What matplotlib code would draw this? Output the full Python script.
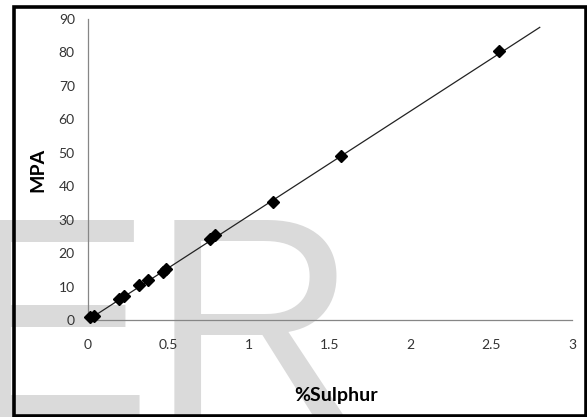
import matplotlib
matplotlib.use("Agg")
import matplotlib.pyplot as plt
from matplotlib.patches import Rectangle

# Data
sulphur = [0.012, 0.04, 0.194, 0.225, 0.318, 0.374, 0.467, 0.484, 0.758, 0.787, 1.149, 1.568, 2.55]
mpa = [1.0, 1.2, 6.2, 7.2, 10.4, 12.1, 14.4, 15.2, 24.3, 25.3, 35.4, 49.1, 80.3]
fit_x = [0.0, 2.8]
fit_y = [0.0, 87.5]
x_ticks = [0, 0.5, 1, 1.5, 2, 2.5, 3]
x_tick_labels = ["0", "0.5", "1", "1.5", "2", "2.5", "3"]
y_ticks = [0, 10, 20, 30, 40, 50, 60, 70, 80, 90]
y_tick_labels = ["0", "10", "20", "30", "40", "50", "60", "70", "80", "90"]

W, H = 587, 417
fig = plt.figure(figsize=(W / 100, H / 100), dpi=100)
fig.patch.set_facecolor("white")

# Watermark
fig.text(-39 / W, 0.0, "ER", fontsize=206, color="#dadada",
         family="Liberation Sans", ha="left", va="baseline", zorder=-5)

ax = fig.add_axes([88 / W, 1 - 320 / H, (572 - 88) / W, (320 - 19) / H])
ax.set_facecolor("none")
ax.set_xlim(0, 3)
ax.set_ylim(0, 90)

ax.plot(fit_x, fit_y, color="#222222", lw=0.9, zorder=2, clip_on=False)
ax.plot(sulphur, mpa, linestyle="none", marker="D", markersize=6,
        color="black", zorder=3, clip_on=False)

for s in ["top", "right"]:
    ax.spines[s].set_visible(False)
for s in ["left", "bottom"]:
    ax.spines[s].set_color("#868686")
    ax.spines[s].set_linewidth(0.9)

ax.set_xticks(x_ticks)
ax.set_xticklabels(x_tick_labels)
ax.set_yticks(y_ticks)
ax.set_yticklabels(y_tick_labels)
ax.tick_params(axis="x", length=0, pad=13.5, labelsize=10, labelcolor="#333333")
ax.tick_params(axis="y", length=0, pad=9.5, labelsize=10, labelcolor="#333333")
for lab in ax.get_xticklabels() + ax.get_yticklabels():
    lab.set_family("Lato")

ax.set_xlabel("%Sulphur", fontsize=14, fontweight="bold", family="Lato", va="center")
ax.xaxis.set_label_coords((336 - 88) / 484, (320 - 396) / 301)
ax.set_ylabel("MPA", fontsize=14, fontweight="bold", family="Lato", va="center")
ax.yaxis.set_label_coords((38 - 88) / 484, 0.5)

# Border around the figure
fig.add_artist(Rectangle((14 / W, 1.5 / H), (585.5 - 14) / W, (H - 7 - 1.5) / H,
                         transform=fig.transFigure, fill=False,
                         edgecolor="black", linewidth=2.6, zorder=10))

fig.savefig("out.png", dpi=100, facecolor="white")
